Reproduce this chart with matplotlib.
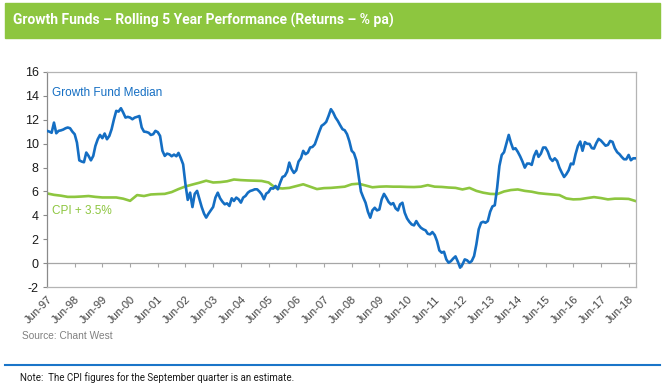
import matplotlib
matplotlib.use('Agg')
import matplotlib.pyplot as plt
import matplotlib.dates as mdates
from matplotlib.patches import Rectangle
import pandas as pd

# ── data ────────────────────────────────────────────────────────────────────
# Growth fund median, rolling 5 yr return (% pa), monthly Jun-97 .. Sep-18
growth_1997 = [11.06, 11.0, 10.9, 11.75, 10.86, 11.06, 11.1]
growth_1998 = [11.17, 11.28, 11.34, 11.28, 11.0, 10.78, 10.08, 8.6, 8.5, 8.44, 9.25, 8.97]
growth_1999 = [8.6, 8.97, 9.8, 10.36, 10.72, 10.45, 10.84, 10.36, 10.64, 11.2, 12.03, 12.73]
growth_2000 = [12.67, 12.95, 12.6, 12.17, 12.23, 12.17, 12.03, 12.17, 12.23, 12.3, 11.34, 11.0]
growth_2001 = [10.97, 10.9, 10.72, 10.78, 11.06, 10.95, 10.64, 9.4, 8.97, 9.16, 9.1, 8.94]
growth_2002 = [9.08, 8.94, 9.22, 8.77, 8.27, 6.6, 5.3, 5.9, 4.7, 5.8, 6.05, 5.4]
growth_2003 = [4.7, 4.15, 3.82, 4.15, 4.43, 4.71, 5.49, 5.9, 5.43, 5.15, 4.93, 5.01]
growth_2004 = [4.79, 5.43, 5.21, 5.49, 5.35, 5.07, 5.49, 5.63, 5.9, 6.04, 6.1, 6.18]
growth_2005 = [6.18, 5.99, 5.77, 5.35, 5.82, 5.95, 6.27, 6.24, 6.46, 6.18, 6.74, 7.21]
growth_2006 = [7.3, 7.66, 8.41, 7.86, 7.55, 7.77, 8.5, 8.77, 9.39, 9.11, 9.25, 9.67]
growth_2007 = [9.72, 9.94, 10.45, 11.0, 11.48, 11.62, 11.81, 12.31, 12.87, 12.59, 12.17, 11.89]
growth_2008 = [11.53, 11.2, 11.11, 10.78, 10.2, 9.4, 9.2, 8.6, 7.3, 6.0, 5.5, 5.06]
growth_2009 = [4.31, 3.81, 4.42, 4.64, 4.42, 4.5, 5.34, 5.8, 5.48, 5.12, 4.92, 5.03]
growth_2010 = [4.59, 4.42, 4.92, 5.06, 4.23, 3.75, 3.47, 3.25, 3.17, 3.53, 3.2, 2.97]
growth_2011 = [2.84, 2.75, 2.47, 2.42, 2.61, 2.36, 1.86, 1.08, 0.89, 0.97, 0.33, 0.05]
growth_2012 = [0.19, 0.41, 0.58, 0.14, -0.36, -0.09, 0.33, 0.25, 0.05, 0.19, 0.61, 1.58]
growth_2013 = [2.84, 3.39, 3.47, 3.39, 3.53, 4.31, 4.75, 4.85, 6.3, 8.13, 9.05, 9.28]
growth_2014 = [10.0, 10.72, 10.08, 9.53, 9.61, 9.3, 8.94, 8.5, 7.99, 8.33, 8.33, 8.22]
growth_2015 = [8.97, 9.39, 8.89, 9.16, 9.67, 9.67, 9.33, 8.77, 8.55, 8.77, 8.55, 7.99]
growth_2016 = [7.58, 7.21, 7.44, 7.77, 8.33, 8.27, 9.11, 9.8, 10.17, 9.4, 10.12, 9.98]
growth_2017 = [9.97, 9.62, 9.58, 10.04, 10.39, 10.25, 10.04, 9.82, 9.89, 10.22, 10.14, 9.61]
growth_2018 = [9.28, 9.11, 8.89, 8.69, 8.69, 9.05, 8.61, 8.77, 8.77]

# CPI + 3.5%, quarterly Jun-97 .. Sep-18
cpi_plus = [5.84, 5.72, 5.65, 5.55, 5.55, 5.58, 5.62, 5.55, 5.5, 5.5,
            5.5, 5.4, 5.22, 5.7, 5.62, 5.75, 5.78, 5.8, 5.95, 6.2,
            6.42, 6.58, 6.73, 6.9, 6.75, 6.78, 6.85, 7.0, 6.95, 6.92,
            6.9, 6.88, 6.75, 6.3, 6.25, 6.3, 6.45, 6.6, 6.4, 6.2,
            6.28, 6.3, 6.35, 6.4, 6.6, 6.65, 6.5, 6.35, 6.4, 6.42,
            6.4, 6.4, 6.38, 6.37, 6.4, 6.53, 6.4, 6.38, 6.33, 6.3,
            6.17, 6.3, 6.05, 5.9, 5.8, 5.78, 6.0, 6.12, 6.17, 6.05,
            5.98, 5.86, 5.8, 5.75, 5.7, 5.42, 5.34, 5.36, 5.45, 5.53,
            5.45, 5.34, 5.4, 5.4, 5.38, 5.2]

growth = (growth_1997 + growth_1998 + growth_1999 + growth_2000 + growth_2001
          + growth_2002 + growth_2003 + growth_2004 + growth_2005 + growth_2006
          + growth_2007 + growth_2008 + growth_2009 + growth_2010 + growth_2011
          + growth_2012 + growth_2013 + growth_2014 + growth_2015 + growth_2016
          + growth_2017 + growth_2018)
growth_dates = pd.date_range('1997-06-01', periods=len(growth), freq='MS')
cpi_dates = pd.date_range('1997-06-01', periods=len(cpi_plus), freq='3MS')
tick_dates = pd.date_range('1997-06-01', '2018-06-01', freq='12MS')
y_ticks = list(range(-2, 17, 2))

title = "Growth Funds \u2013 Rolling 5 Year Performance (Returns \u2013 % pa)"
note = "Note:  The CPI figures for the September quarter is an estimate."

BLUE = '#146ec3'
GREEN = '#8dc63f'
NARROW = ['Roboto', 'Liberation Sans', 'DejaVu Sans']
plt.rcParams['font.family'] = ['Liberation Sans', 'DejaVu Sans']
plt.rcParams['axes.unicode_minus'] = False

# ── figure ──────────────────────────────────────────────────────────────────
W, H = 664, 386
fig = plt.figure(figsize=(W / 100, H / 100), dpi=100)

# title banner
fig.patches.append(Rectangle((5 / W, 1 - 38 / H), 655 / W, 35 / H,
                             transform=fig.transFigure, color=GREEN, zorder=0))
fig.text(13 / W, 1 - 20.5 / H, title, color='white', fontsize=10, weight='bold',
         va='center', ha='left', family=NARROW)

ax = fig.add_axes([47 / W, 1 - 287.3 / H, 588.6 / W, 215.6 / H])
ax.plot(growth_dates, growth, color=BLUE, lw=1.9, zorder=3, solid_joinstyle='round')
ax.plot(cpi_dates, cpi_plus, color=GREEN, lw=1.9, zorder=2)

ax.set_ylim(-2, 16)
ax.set_xlim(growth_dates[0], growth_dates[-1])
ax.set_yticks(y_ticks)
ax.set_xticks(tick_dates)
ax.xaxis.set_major_formatter(mdates.DateFormatter('%b-%y'))

for side in ('top', 'right', 'bottom'):
    ax.spines[side].set_color('#b4b4b4')
    ax.spines[side].set_linewidth(0.9)
ax.spines['left'].set_color('#8a8a8a')
ax.spines['left'].set_linewidth(0.9)

ax.tick_params(axis='y', direction='out', length=3, color='#8a8a8a',
               labelsize=9, labelcolor='#1a1a1a', pad=3)
ax.tick_params(axis='x', length=0, labelsize=8, labelcolor='#404040', pad=5)
for lbl in ax.get_xticklabels():
    lbl.set_rotation(45)
    lbl.set_ha('right')
    lbl.set_va('top')
    lbl.set_rotation_mode('anchor')

# category axis crossing at zero, with its tick marks
zero_ax = ax.secondary_xaxis(2 / 18)
zero_ax.set_xticks(tick_dates)
zero_ax.tick_params(direction='out', length=3, color='#a6a6a6', labelbottom=False)
zero_ax.spines['bottom'].set_color('#a6a6a6')
zero_ax.spines['bottom'].set_linewidth(0.9)

ax.text(0.009, 0.901, 'Growth Fund Median', transform=ax.transAxes, color=BLUE,
        fontsize=8.5, va='center', ha='left')
ax.text(0.009, 0.354, 'CPI + 3.5%', transform=ax.transAxes, color=GREEN,
        fontsize=8.5, va='center', ha='left')

fig.text(22 / W, 1 - 336 / H, 'Source: Chant West', color='#808080', fontsize=7.3,
         va='center', ha='left')

# note area
fig.add_artist(plt.Line2D([5 / W, 660 / W], [1 - 364.5 / H, 1 - 364.5 / H],
                          transform=fig.transFigure, color='#1a75c9', lw=1.5))
fig.text(20 / W, 1 - 378 / H, note, color='#1a1a1a', fontsize=7,
         va='center', ha='left', family=NARROW)

fig.savefig('out.png', dpi=100)
